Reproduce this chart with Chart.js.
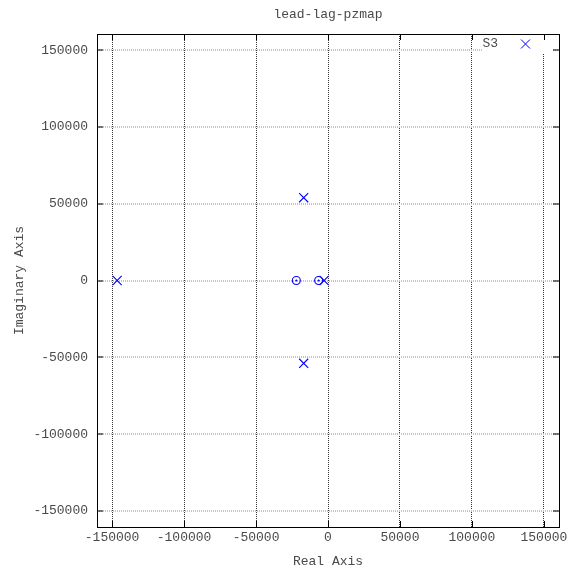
<!DOCTYPE html>
<html>
<head>
<meta charset="utf-8">
<script src="https://cdn.jsdelivr.net/npm/chart.js@4/dist/chart.umd.min.js"></script>
<style>
  html, body { margin: 0; padding: 0; background: #ffffff; }
  #wrap { width: 568px; height: 572px; }
</style>
</head>
<body>
<div id="wrap"><canvas id="pz" width="568" height="572"></canvas></div>
<script>
// Poles (x) and zeros (o) of the lead-lag compensator
const poleRe = [-146500, -16900, -16900, -2700];
const poleIm = [0, 53900, -53900, 0];
const zeroRe = [-22000, -6500];
const zeroIm = [0, 0];

const tickValues = [-150000, -100000, -50000, 0, 50000, 100000, 150000];
const axisMin = -160500;
const axisMax = 160500;

const chartTitle = 'lead-lag-pzmap';
const seriesName = 'S3';
const xTitle = 'Real Axis';
const yTitle = 'Imaginary Axis';

const FONT = "'Liberation Mono', 'DejaVu Sans Mono', monospace";
const TEXT = '#4a4a4a';
const BLUE = '#0000ff';

const poles = poleRe.map((x, i) => ({ x: x, y: poleIm[i] }));
const zeros = zeroRe.map((x, i) => ({ x: x, y: zeroIm[i] }));

function useTickValues(scale) {
  scale.ticks = tickValues.map(v => ({ value: v }));
}

function noEdgePadding(scale) {
  scale.paddingLeft = 0;
  scale.paddingRight = 0;
  scale.paddingTop = 0;
  scale.paddingBottom = 0;
}

// Frame, inward ticks on all four sides, title and key
const frame = {
  id: 'frame',
  afterDatasetsDraw(chart) {
    const ctx = chart.ctx;
    const a = chart.chartArea;
    // key box
    ctx.save();
    ctx.fillStyle = '#ffffff';
    ctx.fillRect(483, a.top + 1, 69, 18);
    ctx.fillStyle = TEXT;
    ctx.font = '13px ' + FONT;
    ctx.textAlign = 'right';
    ctx.textBaseline = 'middle';
    ctx.fillText(seriesName, 498, 44);
    ctx.strokeStyle = BLUE;
    Chart.helpers.drawPoint(ctx, {
      pointStyle: 'crossRot', radius: 6.4, borderWidth: 1.1
    }, 525.5, 44);
    ctx.restore();
  },
  afterDraw(chart) {
    const ctx = chart.ctx;
    const a = chart.chartArea;
    const xs = chart.scales.x, ys = chart.scales.y;
    const L = 6;
    ctx.save();
    ctx.strokeStyle = '#000000';
    ctx.lineWidth = 1;
    ctx.beginPath();
    tickValues.forEach(v => {
      const px = Math.round(xs.getPixelForValue(v)) + 0.5;
      ctx.moveTo(px, a.bottom); ctx.lineTo(px, a.bottom - L);
      ctx.moveTo(px, a.top); ctx.lineTo(px, a.top + L);
      const py = Math.round(ys.getPixelForValue(v));
      ctx.moveTo(a.left, py); ctx.lineTo(a.left + L, py);
      ctx.moveTo(a.right, py); ctx.lineTo(a.right - L, py);
    });
    ctx.stroke();
    ctx.strokeRect(Math.round(a.left) + 0.5, Math.round(a.top) + 0.5,
                   Math.round(a.right - a.left), Math.round(a.bottom - a.top));
    // title, centred over the plot area
    ctx.fillStyle = TEXT;
    ctx.font = '13px ' + FONT;
    ctx.textAlign = 'center';
    ctx.textBaseline = 'middle';
    ctx.fillText(chartTitle, (a.left + a.right) / 2, 14.5);
    ctx.restore();
  }
};

new Chart(document.getElementById('pz'), {
  type: 'scatter',
  data: {
    datasets: [
      {
        label: seriesName,
        data: poles,
        pointStyle: 'crossRot',
        pointRadius: 6.4,
        pointHoverRadius: 6.4,
        borderColor: BLUE,
        backgroundColor: BLUE,
        pointBorderWidth: 1.1
      },
      {
        label: 'zeros',
        data: zeros,
        pointStyle: 'circle',
        pointRadius: 4,
        pointHoverRadius: 4,
        borderColor: BLUE,
        backgroundColor: 'rgba(0,0,0,0)',
        pointBorderWidth: 1.1
      },
      {
        label: 'zero centres',
        data: zeros,
        pointStyle: 'circle',
        pointRadius: 0.8,
        pointHoverRadius: 0.8,
        borderColor: BLUE,
        backgroundColor: BLUE,
        pointBorderWidth: 0.5
      }
    ]
  },
  options: {
    responsive: false,
    animation: false,
    events: [],
    layout: { padding: { top: 34, right: 9, left: 0, bottom: 0 } },
    plugins: {
      legend: { display: false },
      title: { display: false },
      tooltip: { enabled: false }
    },
    scales: {
      x: {
        type: 'linear',
        min: axisMin,
        max: axisMax,
        afterBuildTicks: useTickValues,
        afterFit(scale) { scale.height = 45; noEdgePadding(scale); },
        border: { display: false, dash: [1, 1] },
        grid: { color: '#333333', lineWidth: 1, drawTicks: false },
        ticks: {
          padding: 3,
          color: TEXT,
          maxRotation: 0,
          autoSkip: false,
          font: { family: FONT, size: 13 },
          callback: v => String(v)
        },
        title: {
          display: true,
          text: xTitle,
          color: TEXT,
          font: { family: FONT, size: 13 },
          padding: { top: 0, bottom: 3 }
        }
      },
      y: {
        type: 'linear',
        min: axisMin,
        max: axisMax,
        afterBuildTicks: useTickValues,
        afterFit(scale) { scale.width = 97; noEdgePadding(scale); },
        border: { display: false, dash: [1, 1] },
        grid: { color: '#c4c4c4', lineWidth: 2, drawTicks: false },
        ticks: {
          padding: 9,
          color: TEXT,
          autoSkip: false,
          font: { family: FONT, size: 13 },
          callback: v => String(v)
        },
        title: {
          display: true,
          text: yTitle,
          color: TEXT,
          font: { family: FONT, size: 13 },
          padding: { top: 12, bottom: 0 }
        }
      }
    }
  },
  plugins: [frame]
});
</script>
</body>
</html>
